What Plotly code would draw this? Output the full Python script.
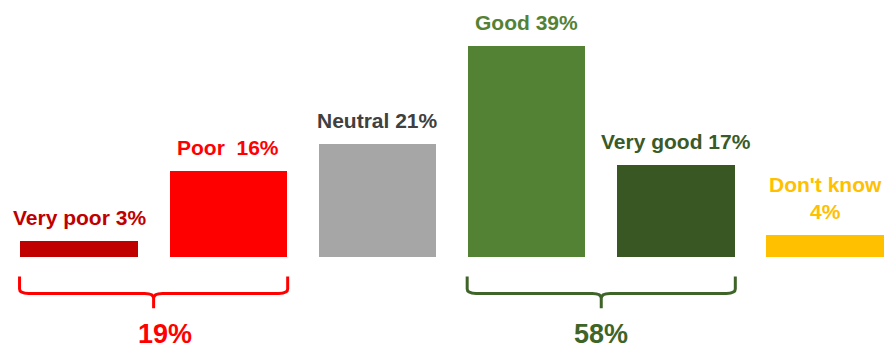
import plotly.graph_objects as go

categories = ["Very poor", "Poor", "Neutral", "Good", "Very good", "Don't know"]
values = [3, 16, 21, 39, 17, 4]
label_texts = ["Very poor 3%", "Poor  16%", "Neutral 21%", "Good 39%", "Very good 17%", "Don't know<br>4%"]
bar_colors = ["#C00000", "#FF0000", "#A6A6A6", "#548235", "#385723", "#FFC000"]
label_colors = ["#C00000", "#FF0000", "#404040", "#548235", "#3A5A27", "#FFC000"]
group_ranges = [(0, 1), (3, 4)]
group_totals = ["19%", "58%"]
group_colors = ["#FF0000", "#3F6428"]

FONT = "Liberation Sans, Arial"
W = 0.787

x = list(range(len(categories)))
fig = go.Figure()
fig.add_trace(go.Bar(
    x=x, y=values, width=W,
    marker=dict(color=bar_colors, line=dict(width=0)),
    hoverinfo="skip",
))

for i, (t, c, v) in enumerate(zip(label_texts, label_colors, values)):
    fig.add_annotation(x=i, y=v, text=t, showarrow=False, xref="x", yref="y",
                       yanchor="bottom", yshift=10,
                       font=dict(family=FONT, size=21, color=c, weight="bold"))

y0, y1, y2 = -3.6, -6.75, -9.5
shifts = [11, 0]
for (a, b), tot, col, sh in zip(group_ranges, group_totals, group_colors, shifts):
    xl = a - W / 2 - 0.005
    xr = b + W / 2 + 0.005
    xm = (xl + xr) / 2
    dx = 0.06
    path = (f"M {xl},{y0} L {xl},{y1+0.8} Q {xl},{y1} {xl+dx},{y1} "
            f"L {xm-dx},{y1} Q {xm},{y1} {xm},{y1-0.9} L {xm},{y2} "
            f"M {xm},{y1-0.9} Q {xm},{y1} {xm+dx},{y1} "
            f"L {xr-dx},{y1} Q {xr},{y1} {xr},{y1+0.8} L {xr},{y0}")
    fig.add_shape(type="path", path=path, xref="x", yref="y",
                  line=dict(color=col, width=3))
    fig.add_annotation(x=xm, y=-14.3, text=tot, showarrow=False, xshift=sh,
                       xref="x", yref="y", yanchor="middle", borderpad=0,
                       font=dict(family=FONT, size=27, color=col, weight="bold"))

fig.update_layout(
    width=884, height=349,
    margin=dict(l=0, r=0, t=0, b=0),
    paper_bgcolor="white", plot_bgcolor="white",
    showlegend=False,
    xaxis=dict(range=[-0.5295, 5.395], visible=False, fixedrange=True),
    yaxis=dict(range=[-17.04, 47.59], visible=False, fixedrange=True),
    bargap=0,
)
fig.write_html("out.html", config={"displayModeBar": False})
